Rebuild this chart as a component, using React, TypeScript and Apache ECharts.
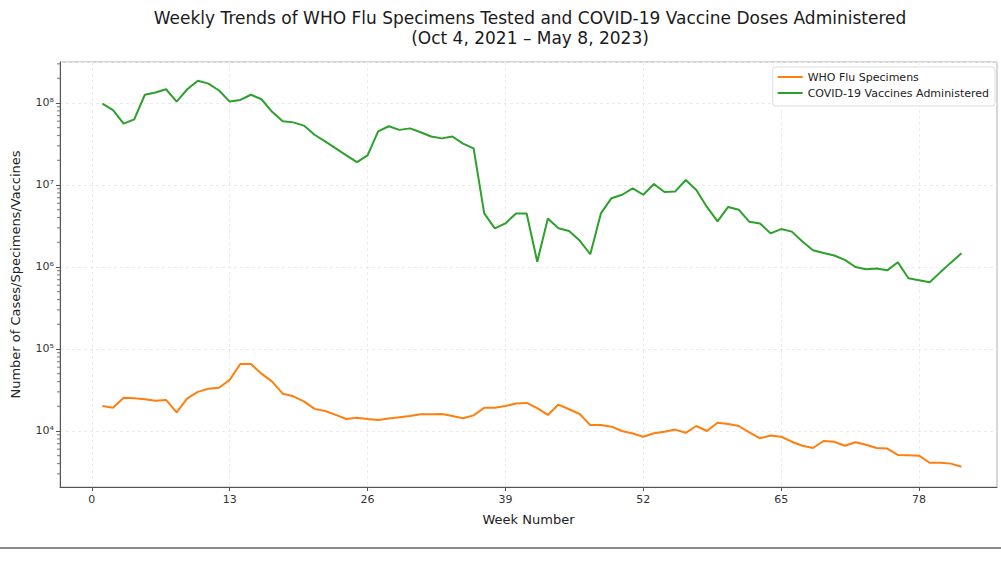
import { useEffect, useRef } from "react";
import * as echarts from "echarts";

// Weekly values, weeks 1..82
const fluSpecimens = [
  20200, 19200, 25500, 25000, 24400, 23400, 23900, 16900, 25000, 30000,
  32800, 33700, 42000, 65600, 65600, 50000, 40000, 28500, 26500, 23000,
  18600, 17500, 15700, 14000, 14500, 14000, 13600, 14200, 14700, 15200,
  16000, 16000, 16100, 15200, 14300, 15500, 19200, 19200, 20200, 21600,
  22000, 19000, 15700, 21000, 18400, 16100, 11800, 11800, 11300, 10000,
  9300, 8500, 9400, 9800, 10400, 9500, 11500, 10000, 12600, 12200,
  11500, 9600, 8150, 8800, 8500, 7400, 6600, 6200, 7550, 7400,
  6600, 7300, 6800, 6200, 6100, 5100, 5050, 5000, 4100, 4100,
  4000, 3670,
];

const covidVaccines = [
  98000000, 82000000, 56000000, 63000000, 126000000, 134000000, 147000000, 104000000, 147000000, 187000000,
  172000000, 142000000, 104000000, 109000000, 126000000, 111000000, 78000000, 60000000, 58000000, 53000000,
  41000000, 34000000, 28000000, 23000000, 19000000, 23000000, 45000000, 52000000, 47000000, 49000000,
  44000000, 39000000, 37000000, 39000000, 32000000, 28000000, 4500000, 2960000, 3400000, 4500000,
  4500000, 1160000, 3900000, 2960000, 2750000, 2100000, 1430000, 4500000, 6900000, 7600000,
  9100000, 7600000, 10300000, 8200000, 8300000, 11500000, 8700000, 5400000, 3600000, 5400000,
  5000000, 3550000, 3400000, 2570000, 2900000, 2700000, 2040000, 1600000, 1480000, 1380000,
  1220000, 1000000, 940000, 960000, 910000, 1140000, 730000, 690000, 650000, 860000,
  1130000, 1470000,
];

const weeks = fluSpecimens.map((_, i) => i + 1);

const xTickValues = [0, 13, 26, 39, 52, 65, 78];
const minorDecades = [1000, 10000, 100000, 1000000, 10000000, 100000000];
const minorMultipliers = [2, 3, 4, 5, 6, 7, 8, 9];

const seriesNames = ["WHO Flu Specimens", "COVID-19 Vaccines Administered"];

const X_MIN = -3;
const X_MAX = 85.35;
const Y_MIN = 2075;
const Y_MAX = 316000000;

const SUP: Record<string, string> = {
  "0": "⁰", "1": "¹", "2": "²", "3": "³", "4": "⁴",
  "5": "⁵", "6": "⁶", "7": "⁷", "8": "⁸", "9": "⁹",
};

export default function App() {
  const ref = useRef<HTMLDivElement>(null);

  useEffect(() => {
    if (!ref.current) return;
    const chart = echarts.init(ref.current, undefined, { renderer: "svg" });

    const minorTicks: number[] = [];
    minorDecades.forEach((d) =>
      minorMultipliers.forEach((m) => {
        const v = d * m;
        if (v > Y_MIN && v < Y_MAX) minorTicks.push(v);
      })
    );

    const font = "DejaVu Sans";
    const gridLine = { show: true, lineStyle: { color: "#ebebeb", type: [3, 3], width: 1 } };

    chart.setOption({
      animation: false,
      backgroundColor: "#ffffff",
      textStyle: { fontFamily: font },
      grid: {
        left: 60,
        right: 4,
        top: 62,
        bottom: 75,
        show: true,
        borderColor: "#b0b0b0",
        borderWidth: 1,
        backgroundColor: "transparent",
      },
      legend: {
        data: seriesNames,
        orient: "vertical",
        right: 6,
        top: 67,
        icon: "rect",
        itemWidth: 25,
        itemHeight: 2,
        itemGap: 2,
        padding: [3, 6, 6, 5],
        backgroundColor: "rgba(255,255,255,0.85)",
        borderColor: "#dddddd",
        borderWidth: 1,
        borderRadius: 3,
        textStyle: { fontSize: 11, color: "#222", fontFamily: font, lineHeight: 14 },
      },
      graphic: [
        {
          type: "text",
          x: 530,
          y: 8,
          style: {
            text:
              "Weekly Trends of WHO Flu Specimens Tested and COVID-19 Vaccine Doses Administered\n(Oct 4, 2021 – May 8, 2023)",
            align: "center",
            verticalAlign: "top",
            fontSize: 17,
            lineHeight: 20,
            fontFamily: font,
            fill: "#1a1a1a",
          },
        },
        {
          type: "line",
          shape: { x1: 0, y1: 548, x2: 1001, y2: 548 },
          style: { stroke: "#8a8a8a", lineWidth: 2 },
        },
      ],
      xAxis: {
        type: "value",
        min: X_MIN,
        max: X_MAX,
        name: "Week Number",
        nameLocation: "middle",
        nameGap: 26,
        nameTextStyle: { fontSize: 13, color: "#222", fontFamily: font },
        axisLine: { show: true, onZero: false, lineStyle: { color: "#555", width: 1 } },
        axisTick: {
          show: true,
          customValues: xTickValues,
          length: 4,
          lineStyle: { color: "#555" },
        },
        axisLabel: {
          customValues: xTickValues,
          fontSize: 11,
          color: "#333",
          margin: 7,
          fontFamily: font,
        },
        splitLine: gridLine,
      },
      yAxis: {
        type: "log",
        logBase: 10,
        min: Y_MIN,
        max: Y_MAX,
        name: "Number of Cases/Specimens/Vaccines",
        nameLocation: "middle",
        nameGap: 38,
        nameTextStyle: { fontSize: 13, color: "#222", fontFamily: font },
        axisLine: { show: true, onZero: false, lineStyle: { color: "#555", width: 1 } },
        axisTick: { show: true, length: 4, lineStyle: { color: "#555" } },
        axisLabel: {
          fontSize: 11,
          color: "#333",
          margin: 6,
          showMinLabel: false,
          showMaxLabel: false,
          fontFamily: font,
          formatter: (v: number) => {
            const l = Math.log10(v);
            const e = Math.round(l);
            if (Math.abs(l - e) > 1e-6) return "";
            return "10" + String(e).split("").map((c) => SUP[c]).join("");
          },
        },
        splitLine: gridLine,
      },
      series: [
        {
          name: seriesNames[0],
          type: "line",
          data: weeks.map((w, i) => [w, fluSpecimens[i]]),
          showSymbol: false,
          symbol: "none",
          color: "#ff7f0e",
          lineStyle: { width: 2, color: "#ff7f0e" },
          z: 3,
        },
        {
          name: seriesNames[1],
          type: "line",
          data: weeks.map((w, i) => [w, covidVaccines[i]]),
          showSymbol: false,
          symbol: "none",
          color: "#2ca02c",
          lineStyle: { width: 2, color: "#2ca02c" },
          z: 3,
        },
        {
          type: "scatter",
          data: minorTicks.map((v) => [X_MIN, v]),
          symbol: "rect",
          symbolSize: [3, 1],
          symbolOffset: [-1.5, 0],
          itemStyle: { color: "#555" },
          silent: true,
          clip: false,
          z: 4,
        },
      ],
    });

    return () => chart.dispose();
  }, []);

  return (
    <div
      ref={ref}
      style={{ position: "absolute", left: 0, top: 0, width: 1001, height: 562 }}
    />
  );
}
